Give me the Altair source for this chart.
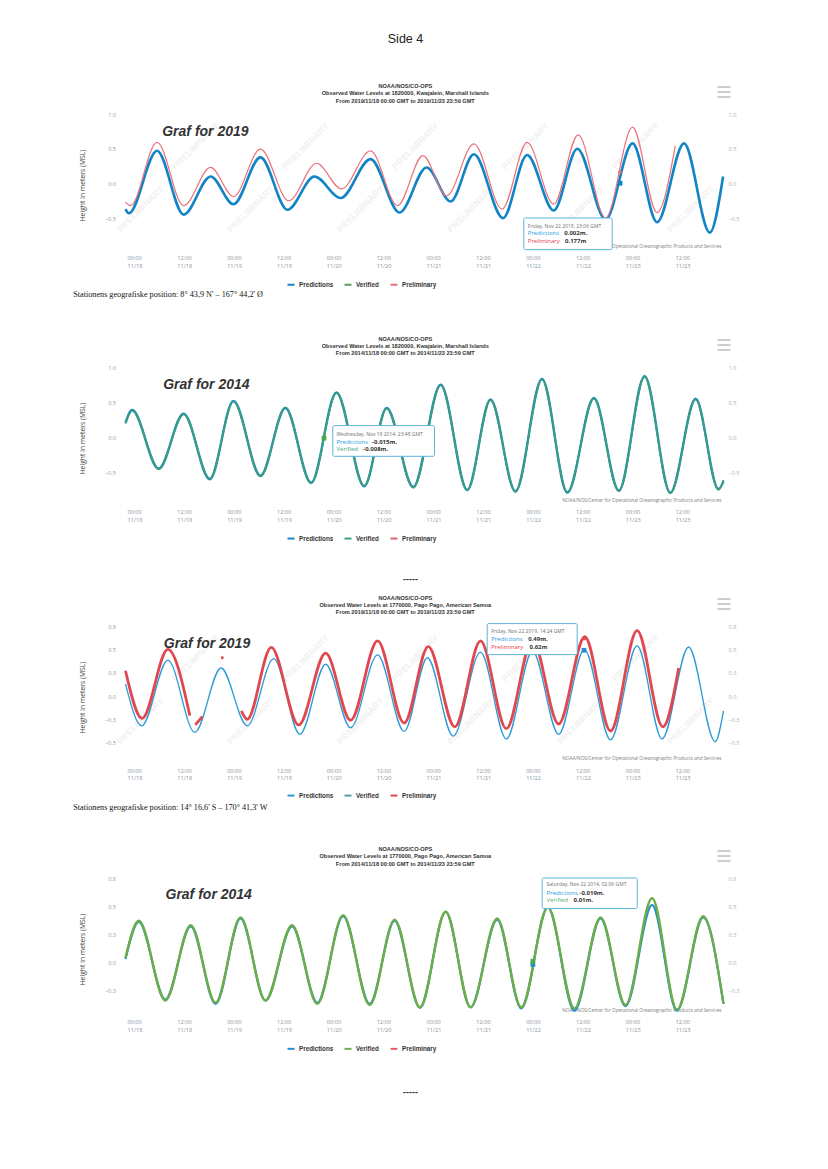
import altair as alt
import pandas as pd

# ---------------------------------------------------------------- data
SERIES = ["Predictions", "Verified", "Preliminary"]

TICK_HOURS = [0, 12, 24, 36, 48, 60, 72, 84, 96, 108, 120, 132]
TICK_TIMES = ["00:00", "12:00"] * 6
TICK_DATES = ["11/18", "11/18", "11/19", "11/19", "11/20", "11/20",
              "11/21", "11/21", "11/22", "11/22", "11/23", "11/23"]

Y_TICKS_KWA = [1.0, 0.5, 0.0, -0.5]
Y_TICKS_PAGO = [0.75, 0.5, 0.25, 0.0, -0.25, -0.5]

# Kwajalein 2019 (hours since 11/18 00:00 GMT, metres MSL)
KWA19_PRED_T = [0, 0.8, 7.6, 14.0, 20.5, 26.0, 32.5, 39.0, 45.5, 51.8, 59.0, 66.0, 72.5,
                78.3, 83.9, 90.9, 96.7, 103.1, 108.8, 115.6, 122.1, 128.0, 134.5, 140.7, 143.9]
KWA19_PRED_H = [-0.37, -0.43, 0.47, -0.45, 0.10, -0.30, 0.375, -0.38, 0.10, -0.21, 0.35, -0.42, 0.23,
                -0.26, 0.42, -0.50, 0.41, -0.39, 0.50, -0.52, 0.576, -0.56, 0.576, -0.71, 0.10]
KWA19_PREL_T = [0, 1.2, 7.6, 14.0, 20.5, 26.0, 32.5, 39.3, 46.0, 52.0, 59.0, 65.5, 71.6,
                77.3, 83.9, 90.7, 96.7, 103.1, 109.0, 115.6, 122.1, 128.0, 132.4]
KWA19_PREL_H = [-0.27, -0.32, 0.59, -0.32, 0.23, -0.19, 0.495, -0.25, 0.29, -0.08, 0.47, -0.32, 0.40,
                -0.18, 0.57, -0.37, 0.59, -0.30, 0.70, -0.50, 0.81, -0.42, 0.54]

# Kwajalein 2014
KWA14_T = [0, 1.6, 8.0, 14.0, 20.3, 26.0, 32.5, 38.5, 44.7, 50.8, 57.5, 62.9, 69.3,
           75.9, 82.3, 87.9, 93.9, 100.3, 106.4, 112.8, 118.8, 125.0, 131.2, 137.3, 142.8, 144.0]
KWA14_PRED_H = [0.21, 0.39, -0.44, 0.34, -0.59, 0.52, -0.54, 0.42, -0.64, 0.64, -0.69, 0.42, -0.70,
                0.75, -0.74, 0.54, -0.76, 0.83, -0.78, 0.56, -0.75, 0.87, -0.78, 0.55, -0.73, -0.62]
KWA14_VER_H = [0.20, 0.38, -0.45, 0.33, -0.58, 0.51, -0.55, 0.43, -0.65, 0.63, -0.68, 0.41, -0.71,
               0.74, -0.75, 0.53, -0.77, 0.82, -0.77, 0.55, -0.76, 0.86, -0.79, 0.54, -0.74, -0.60]

# Pago Pago 2019
PAGO19_PRED_T = [0, 3.9, 10.2, 16.7, 23.0, 29.3, 35.7, 42.0, 48.2, 54.2, 60.7, 67.1, 72.7,
                 78.9, 85.5, 91.7, 98.0, 104.3, 110.5, 116.8, 123.2, 129.2, 135.6, 142.0, 144.0]
PAGO19_PRED_H = [0.13, -0.32, 0.385, -0.39, 0.30, -0.32, 0.40, -0.41, 0.34, -0.34, 0.44, -0.38, 0.41,
                 -0.43, 0.47, -0.46, 0.48, -0.41, 0.50, -0.47, 0.54, -0.46, 0.525, -0.49, -0.16]
PAGO19_PREL_T = [0, 4.0, 10.2, 15.5, 16.8, 18.5, 23.0, 23.6,
                 27.9, 29.3, 35.1, 41.7, 48.2, 54.2, 60.7, 67.1, 72.9, 79.3, 85.5, 91.7,
                 98.0, 104.3, 110.6, 116.8, 123.2, 129.4, 133.2]
PAGO19_PREL_H = [0.27, -0.24, 0.50, -0.21, -0.31, -0.22, 0.41, 0.41,
                 -0.16, -0.25, 0.52, -0.31, 0.46, -0.26, 0.59, -0.29, 0.53, -0.33, 0.59, -0.35,
                 0.60, -0.30, 0.635, -0.375, 0.70, -0.33, 0.30]
PAGO19_PREL_SEG = [0, 0, 0, 0, 1, 1, 2, 2] + [3] * 19

# Pago Pago 2014
PAGO14_T = [0, 3.2, 9.6, 15.7, 21.7, 27.7, 33.7, 40.1, 46.2, 52.4, 58.8, 64.8, 70.9,
            77.1, 83.1, 89.5, 95.3, 101.7, 108.1, 114.4, 120.4, 126.8, 132.8, 139.1, 144.0]
PAGO14_PRED_H = [0.03, 0.36, -0.33, 0.32, -0.37, 0.39, -0.34, 0.32, -0.36, 0.41, -0.37, 0.37, -0.405,
                 0.45, -0.40, 0.38, -0.41, 0.49, -0.43, 0.39, -0.39, 0.51, -0.43, 0.40, -0.37]
PAGO14_VER_H = [0.04, 0.37, -0.34, 0.33, -0.36, 0.40, -0.34, 0.33, -0.37, 0.42, -0.38, 0.38, -0.40,
                0.45, -0.40, 0.39, -0.40, 0.49, -0.41, 0.40, -0.38, 0.57, -0.42, 0.41, -0.37]

# tooltips (one per chart)
TIP_T = [119.1, 47.8, 110.4, 98.1]
TIP_PRED = [0.002, -0.015, 0.49, -0.019]
TIP_OBS = [0.177, -0.008, 0.62, 0.01]
TIP_PRED_TXT = ["0.002m.", "-0.015m.", "0.49m.", "-0.019m."]
TIP_OBS_TXT = ["0.177m", "-0.008m.", "0.62m", "0.01m."]
TIP_DATE = ["Friday, Nov 22 2019, 23:06 GMT", "Wednesday, Nov 19 2014, 23:48 GMT",
            "Friday, Nov 22 2019, 14:24 GMT", "Saturday, Nov 22 2014, 02:06 GMT"]
TIP_OBS_NAME = ["Preliminary", "Verified", "Preliminary", "Verified"]

TITLES = [
    ["NOAA/NOS/CO-OPS", "Observed Water Levels at 1820000, Kwajalein, Marshall Islands",
     "From 2019/11/18 00:00 GMT to 2019/11/23 23:59 GMT"],
    ["NOAA/NOS/CO-OPS", "Observed Water Levels at 1820000, Kwajalein, Marshall Islands",
     "From 2014/11/18 00:00 GMT to 2014/11/23 23:59 GMT"],
    ["NOAA/NOS/CO-OPS", "Observed Water Levels at 1770000, Pago Pago, American Samoa",
     "From 2019/11/18 00:00 GMT to 2019/11/23 23:59 GMT"],
    ["NOAA/NOS/CO-OPS", "Observed Water Levels at 1770000, Pago Pago, American Samoa",
     "From 2014/11/18 00:00 GMT to 2014/11/23 23:59 GMT"],
]
GRAF = ["Graf for 2019", "Graf for 2014", "Graf for 2019", "Graf for 2014"]
STATION = ["Stationens geografiske position: 8\u00b0 43,9 N' \u2013 167\u00b0 44,2' \u00d8", None,
           "Stationens geografiske position: 14\u00b0 16,6' S \u2013 170\u00b0 41,3' W", None]
CREDIT = "NOAA/NOS/Center for Operational Oceanographic Products and Services"

# ---------------------------------------------------------------- helpers
ONE = pd.DataFrame({"k": [0]})
PLOT_W = 598


def frame(name, t, h, seg=None):
    if seg is None:
        seg = [0] * len(t)
    return pd.DataFrame({"t": t, "h": h, "series": name, "seg": seg})


def x_enc(pad):
    times = ",".join("'%s'" % s for s in TICK_TIMES)
    dates = ",".join("'%s'" % s for s in TICK_DATES)
    expr = "[[%s][round(datum.value/12)], [%s][round(datum.value/12)]]" % (times, dates)
    return alt.X("t:Q", scale=alt.Scale(domain=[0, 144], nice=False, zero=False),
                 axis=alt.Axis(values=TICK_HOURS, labelExpr=expr, labelAlign="left", labelBaseline="top",
                               labelOffset=1.5, labelPadding=pad, labelFont="Open Sans", labelFontSize=5.6,
                               labelColor="#8a95a3", labelLineHeight=7.6, labelFlush=False,
                               labelOverlap=False, domain=False, ticks=False, grid=False, title=None))


def left_axis(ticks):
    return alt.Axis(orient="left", values=ticks, format=".1f", labelFont="Open Sans", labelFontSize=5.6,
                    labelColor="#979ca3", labelPadding=10, domain=False, ticks=False, grid=False,
                    labelOverlap=False, labelFlush=False,
                    title="Height in meters (MSL)", titleFont="Open Sans", titleFontSize=6.8,
                    titleFontWeight="normal", titleColor="#444444", titleX=-43, titleY=71,
                    titleAngle=270, titleAlign="center", titleBaseline="middle")


def right_axis(ticks):
    return alt.Axis(orient="right", values=ticks, format=".1f", labelFont="Open Sans", labelFontSize=5.6,
                    labelColor="#aeb2b8", labelPadding=4.5, domain=False, ticks=False, grid=False,
                    labelOverlap=False, labelFlush=False, title=None)


def legend(y):
    return alt.Legend(orient="none", legendX=161, legendY=y, direction="horizontal", title=None,
                      symbolType="stroke", symbolSize=49, symbolStrokeWidth=2,
                      labelFont="Liberation Sans", labelFontSize=6.3, labelFontWeight="bold",
                      labelColor="#333333", labelOffset=3.5, columnPadding=7, padding=0)


def text(s, x, y, size, color="#333333", weight="normal", italic=False, font="Liberation Sans",
         align="left", baseline="middle", angle=None):
    kw = dict(text=s, fontSize=size, color=color, fontWeight=weight, font=font,
              align=align, baseline=baseline)
    if italic:
        kw["fontStyle"] = "italic"
    if angle is not None:
        kw["angle"] = angle
    return alt.Chart(ONE).mark_text(**kw).encode(x=alt.value(x), y=alt.value(y))


def hline(x1, x2, y, color="#9a9a9a"):
    return alt.Chart(ONE).mark_rule(color=color, strokeWidth=1).encode(
        x=alt.value(x1), x2=alt.value(x2), y=alt.value(y))


def panel(i, height, ydom, yticks, xpad, lines, colors, marks, tip, title_y, graf_xy,
          credit_y, legend_y, watermark=False, station_y=None, dash_y=None, page_title=False):
    xe = x_enc(xpad)
    sc = alt.Scale(domain=ydom, nice=False, zero=False)
    y_left = alt.Y("h:Q", scale=sc, axis=left_axis(yticks))
    y_none = alt.Y("h:Q", scale=sc, axis=None)
    y_right = alt.Y("h:Q", scale=sc, axis=right_axis(yticks))
    col = alt.Color("series:N", scale=alt.Scale(domain=SERIES, range=colors), legend=legend(legend_y))

    layers = []
    if watermark:
        for wx in [15, 125, 235, 345, 455, 565]:
            layers.append(text("PRELIMINARY", wx, 95, 9, color="#f1f1f1", weight="bold",
                               align="center", angle=315))
        for wx in [70, 180, 290, 400, 510]:
            layers.append(text("PRELIMINARY", wx, 32, 9, color="#f1f1f1", weight="bold",
                               align="center", angle=315))
    layers.append(text(CREDIT, 596, credit_y, 4.7, color="#7d7d7d", font="Open Sans", align="right"))

    first = True
    for df, w in lines:
        layers.append(alt.Chart(df).mark_line(strokeWidth=w, interpolate="monotone").encode(
            x=xe, y=y_left if first else y_none, color=col, detail="seg:N"))
        first = False
    layers.append(alt.Chart(lines[0][0]).mark_line(opacity=0).encode(x=xe, y=y_right))

    for (mt, mh, mc, shape) in marks:
        layers.append(alt.Chart(pd.DataFrame({"t": [mt], "h": [mh]})).mark_point(
            shape=shape, filled=True, size=22, color=mc, opacity=1).encode(x=xe, y=y_none))

    # tooltip
    bx1, by1, bx2, by2, tx, ly, vx1, vx2, obs_color = tip
    layers.append(alt.Chart(ONE).mark_rect(fill="white", stroke="#5db3dd", strokeWidth=1,
                                           cornerRadius=1.5).encode(
        x=alt.value(bx1), x2=alt.value(bx2), y=alt.value(by1), y2=alt.value(by2)))
    layers.append(text(TIP_DATE[i], tx, ly[0], 5.0, color="#707070", font="Open Sans"))
    layers.append(text("Predictions", tx, ly[1], 6.0, color="#1f9ae0", font="Open Sans"))
    layers.append(text(TIP_PRED_TXT[i], vx1, ly[1], 6.0, color="#333333", weight="bold", font="Open Sans"))
    layers.append(text(TIP_OBS_NAME[i], tx, ly[2], 6.0, color=obs_color, font="Open Sans"))
    layers.append(text(TIP_OBS_TXT[i], vx2, ly[2], 6.0, color="#333333", weight="bold", font="Open Sans"))

    # titles, menu icon, annotation
    for k, ty in enumerate(title_y):
        layers.append(text(TITLES[i][k], 279.8, ty, 5.6, color="#333333", weight="bold", align="center"))
    for yy in [-27, -22, -17]:
        layers.append(hline(592, 605, yy))
    layers.append(text(GRAF[i], graf_xy[0], graf_xy[1], 14, color="#333333", weight="bold", italic=True))
    if station_y is not None:
        layers.append(text(STATION[i], -52.3, station_y, 8.2, color="#111111", font="Liberation Serif"))
    if dash_y is not None:
        layers.append(text("-----", 285, dash_y, 9, color="#333333", weight="bold", align="center"))
    if page_title:
        layers.append(text("Side 4", 280, -75.3, 12.5, color="#222222", align="center"))

    return alt.layer(*layers).resolve_axis(y="independent").properties(width=PLOT_W, height=height)


# ---------------------------------------------------------------- panels
c1 = panel(
    0, 134, [-0.931, 1.0], Y_TICKS_KWA, 7.8,
    [(frame("Predictions", KWA19_PRED_T, KWA19_PRED_H), 2.6),
     (frame("Preliminary", KWA19_PREL_T, KWA19_PREL_H), 1.2)],
    ["#1284c6", "#5aa05a", "#e8727a"],
    [(TIP_T[0], TIP_PRED[0], "#1284c6", "square"), (TIP_T[0], TIP_OBS[0], "#e8727a", "triangle-up")],
    (398.3, 104, 486.7, 135.7, 402.3, [111.7, 119.4, 127.4], 438.8, 439.5, "#e8414b"),
    [-28.3, -21.0, -13.5], (36.7, 17.7), 133.4, 166.0,
    watermark=True, station_y=180.7, page_title=True)

c2 = panel(
    1, 140, [-0.983, 1.0], Y_TICKS_KWA, 2.8,
    [(frame("Predictions", KWA14_T, KWA14_PRED_H), 2.4),
     (frame("Verified", KWA14_T, KWA14_VER_H), 1.7)],
    ["#1a86c8", "#3c9f78", "#e06068"],
    [(TIP_T[1], TIP_OBS[1], "#4caa4a", "square")],
    (207.3, 58.6, 309.0, 89.3, 211.0, [67.0, 75.0, 82.0], 246.6, 237.7, "#3aa57a"),
    [-28.4, -21.4, -14.0], (37.7, 18.3), 134.4, 166.8,
    dash_y=212.3)

c3 = panel(
    2, 133, [-0.675, 0.75], Y_TICKS_PAGO, 9.2,
    [(frame("Predictions", PAGO19_PRED_T, PAGO19_PRED_H), 1.3),
     (frame("Preliminary", PAGO19_PREL_T, PAGO19_PREL_H, PAGO19_PREL_SEG), 2.8)],
    ["#2a9ad8", "#5aa0a0", "#e04850"],
    [(TIP_T[2], TIP_PRED[2], "#1f8fd2", "square"), (TIP_T[2], TIP_OBS[2], "#e04850", "triangle-up")],
    (361.7, -2.4, 451.7, 28.6, 365.7, [5.3, 13.3, 21.0], 402.7, 404.0, "#e8414b"),
    [-28.4, -21.4, -14.0], (38.3, 17.6), 132.6, 164.8,
    watermark=True, station_y=181.6)

c4 = panel(
    3, 133, [-0.433, 0.75], Y_TICKS_PAGO, 8.8,
    [(frame("Predictions", PAGO14_T, PAGO14_PRED_H), 2.2),
     (frame("Verified", PAGO14_T, PAGO14_VER_H), 2.4)],
    ["#1f8fd2", "#6cad4a", "#e06068"],
    [(TIP_T[3], TIP_PRED[3], "#1f8fd2", "square"), (TIP_T[3], TIP_OBS[3], "#5aa64a", "square")],
    (416.7, 0.0, 511.7, 30.6, 421.0, [5.6, 14.6, 21.6], 454.0, 448.0, "#4caf6a"),
    [-28.7, -21.7, -14.4], (40.0, 17.3), 133.0, 166.1,
    dash_y=214.3)

chart = alt.vconcat(c1, c2, c3, c4, spacing=119, bounds="flush").resolve_scale(
    color="independent", x="independent", y="independent"
).resolve_legend(color="independent").properties(
    padding={"left": 64.5, "top": 24, "right": 10, "bottom": 10},
    background="white",
).configure_view(stroke=None)

chart.save("out.html", embed_options={"renderer": "svg", "actions": False})
